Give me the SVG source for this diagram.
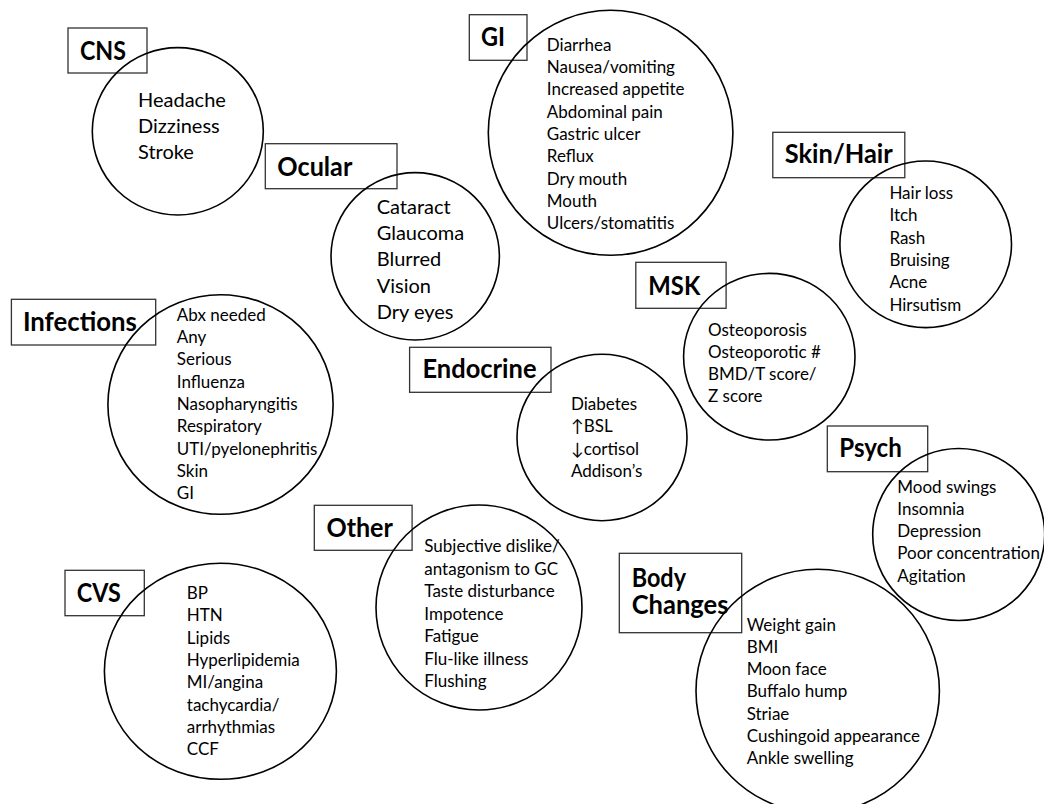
<svg xmlns="http://www.w3.org/2000/svg" width="1044" height="804" viewBox="0 0 1044 804">
<style>
.bg{fill:#ffffff}
.box{fill:none;stroke:#333333;stroke-width:1.3}
.circ{fill:none;stroke:#000000;stroke-width:1.6}
.lab{font-family:Lato,"Liberation Sans",sans-serif;font-weight:bold;font-size:25.8px;fill:#000}
.it{font-family:Lato,"Liberation Sans","DejaVu Sans",sans-serif;font-size:17px;fill:#000}
.big{font-size:20px}
</style>
<rect class="bg" x="0" y="0" width="1044" height="804"/>
<g id="connectors"></g>

<g id="cns">
<rect class="box" x="68" y="28" width="79" height="45"/>
<text class="lab" x="80" y="60" textLength="46" lengthAdjust="spacingAndGlyphs">CNS</text>
<ellipse class="circ" cx="177.8" cy="131.3" rx="85.5" ry="83.7"/>
<text class="it big" x="138" y="107.3"><tspan x="138">Headache</tspan><tspan x="138" dy="26">Dizziness</tspan><tspan x="138" dy="26">Stroke</tspan></text>
</g>

<g id="ocular">
<rect class="box" x="265.3" y="143.7" width="131.7" height="45"/>
<text class="lab" x="277.3" y="175.7" textLength="75" lengthAdjust="spacingAndGlyphs">Ocular</text>
<ellipse class="circ" cx="415.2" cy="256.3" rx="84.2" ry="83.7"/>
<text class="it big" x="376.7" y="214.2"><tspan x="376.7">Cataract</tspan><tspan x="376.7" dy="26.1">Glaucoma</tspan><tspan x="376.7" dy="26.1">Blurred</tspan><tspan x="376.7" dy="26.1">Vision</tspan><tspan x="376.7" dy="26.1">Dry eyes</tspan></text>
</g>

<g id="gi">
<rect class="box" x="469.3" y="14.7" width="57.7" height="45.6"/>
<text class="lab" x="481" y="45.7" textLength="24" lengthAdjust="spacingAndGlyphs">GI</text>
<ellipse class="circ" cx="610.6" cy="132.8" rx="122.3" ry="122.5"/>
<text class="it" x="546.8" y="50.7"><tspan x="546.8">Diarrhea</tspan><tspan x="546.8" dy="22.33">Nausea/vomiting</tspan><tspan x="546.8" dy="22.33">Increased appetite</tspan><tspan x="546.8" dy="22.33">Abdominal pain</tspan><tspan x="546.8" dy="22.33">Gastric ulcer</tspan><tspan x="546.8" dy="22.33">Reflux</tspan><tspan x="546.8" dy="22.33">Dry mouth</tspan><tspan x="546.8" dy="22.33">Mouth</tspan><tspan x="546.8" dy="22.33">Ulcers/stomatitis</tspan></text>
</g>

<g id="skin-hair">
<rect class="box" x="772.8" y="132.3" width="132" height="45.4"/>
<text class="lab" x="784.8" y="163.3" textLength="108" lengthAdjust="spacingAndGlyphs">Skin/Hair</text>
<ellipse class="circ" cx="925.7" cy="244.3" rx="85.8" ry="83.3"/>
<text class="it" x="889.4" y="199"><tspan x="889.4">Hair loss</tspan><tspan x="889.4" dy="22.33">Itch</tspan><tspan x="889.4" dy="22.33">Rash</tspan><tspan x="889.4" dy="22.33">Bruising</tspan><tspan x="889.4" dy="22.33">Acne</tspan><tspan x="889.4" dy="22.33">Hirsutism</tspan></text>
</g>

<g id="msk">
<rect class="box" x="635.8" y="262.3" width="90.3" height="46"/>
<text class="lab" x="648.3" y="295" textLength="52" lengthAdjust="spacingAndGlyphs">MSK</text>
<ellipse class="circ" cx="769.3" cy="356.7" rx="85.7" ry="83.3"/>
<text class="it" x="708" y="335.7"><tspan x="708">Osteoporosis</tspan><tspan x="708" dy="22.2">Osteoporotic #</tspan><tspan x="708" dy="22.2">BMD/T score/</tspan><tspan x="708" dy="22.2">Z score</tspan></text>
</g>

<g id="infections">
<rect class="box" x="11.4" y="299.3" width="144.3" height="45.7"/>
<text class="lab" x="22.9" y="330.7" textLength="114" lengthAdjust="spacingAndGlyphs">Infections</text>
<ellipse class="circ" cx="220.5" cy="404.5" rx="112.6" ry="109.8"/>
<text class="it" x="176.8" y="320.7"><tspan x="176.8">Abx needed</tspan><tspan x="176.8" dy="22.33">Any</tspan><tspan x="176.8" dy="22.33">Serious</tspan><tspan x="176.8" dy="22.33">Influenza</tspan><tspan x="176.8" dy="22.33">Nasopharyngitis</tspan><tspan x="176.8" dy="22.33">Respiratory</tspan><tspan x="176.8" dy="22.33">UTI/pyelonephritis</tspan><tspan x="176.8" dy="22.33">Skin</tspan><tspan x="176.8" dy="22.33">GI</tspan></text>
</g>

<g id="endocrine">
<rect class="box" x="409.6" y="347.3" width="141.4" height="45"/>
<text class="lab" x="422.5" y="378.3" textLength="114" lengthAdjust="spacingAndGlyphs">Endocrine</text>
<ellipse class="circ" cx="602" cy="437.5" rx="85" ry="83.2"/>
<text class="it" x="571" y="410"><tspan x="571">Diabetes</tspan><tspan x="571" dy="22.33">↑BSL</tspan><tspan x="571" dy="22.33">↓cortisol</tspan><tspan x="571" dy="22.33">Addison’s</tspan></text>
</g>

<g id="psych">
<rect class="box" x="827.3" y="426" width="100.4" height="45.7"/>
<text class="lab" x="839.3" y="457.3" textLength="62.5" lengthAdjust="spacingAndGlyphs">Psych</text>
<ellipse class="circ" cx="958.7" cy="534.5" rx="86" ry="86"/>
<text class="it" x="897.3" y="492.7"><tspan x="897.3">Mood swings</tspan><tspan x="897.3" dy="22.25">Insomnia</tspan><tspan x="897.3" dy="22.25">Depression</tspan><tspan x="897.3" dy="22.25">Poor concentration</tspan><tspan x="897.3" dy="22.25">Agitation</tspan></text>
</g>

<g id="other">
<rect class="box" x="314.3" y="505.3" width="97.8" height="45"/>
<text class="lab" x="326.4" y="536.7" textLength="66.5" lengthAdjust="spacingAndGlyphs">Other</text>
<ellipse class="circ" cx="479" cy="607.5" rx="103" ry="102.5"/>
<text class="it" x="424.3" y="552.3"><tspan x="424.3">Subjective dislike/</tspan><tspan x="424.3" dy="22.5">antagonism to GC</tspan><tspan x="424.3" dy="22.5">Taste disturbance</tspan><tspan x="424.3" dy="22.5">Impotence</tspan><tspan x="424.3" dy="22.5">Fatigue</tspan><tspan x="424.3" dy="22.5">Flu-like illness</tspan><tspan x="424.3" dy="22.5">Flushing</tspan></text>
</g>

<g id="cvs">
<rect class="box" x="65" y="570.3" width="79.3" height="45.4"/>
<text class="lab" x="76.8" y="601.7" textLength="44" lengthAdjust="spacingAndGlyphs">CVS</text>
<ellipse class="circ" cx="220.4" cy="671.3" rx="116" ry="108"/>
<text class="it" x="186.8" y="599"><tspan x="186.8">BP</tspan><tspan x="186.8" dy="22.33">HTN</tspan><tspan x="186.8" dy="22.33">Lipids</tspan><tspan x="186.8" dy="22.33">Hyperlipidemia</tspan><tspan x="186.8" dy="22.33">MI/angina</tspan><tspan x="186.8" dy="22.33">tachycardia/</tspan><tspan x="186.8" dy="22.33">arrhythmias</tspan><tspan x="186.8" dy="22.33">CCF</tspan></text>
</g>

<g id="body-changes">
<rect class="box" x="619.3" y="553.3" width="122.4" height="79.4"/>
<text class="lab" x="631.7" y="586.7" textLength="54.3" lengthAdjust="spacingAndGlyphs">Body</text>
<text class="lab" x="631.7" y="614.3" textLength="96.7" lengthAdjust="spacingAndGlyphs">Changes</text>
<ellipse class="circ" cx="817.7" cy="691" rx="121.7" ry="121.7"/>
<text class="it" x="746.7" y="630.7"><tspan x="746.7">Weight gain</tspan><tspan x="746.7" dy="22.2">BMI</tspan><tspan x="746.7" dy="22.2">Moon face</tspan><tspan x="746.7" dy="22.2">Buffalo hump</tspan><tspan x="746.7" dy="22.2">Striae</tspan><tspan x="746.7" dy="22.2">Cushingoid appearance</tspan><tspan x="746.7" dy="22.2">Ankle swelling</tspan></text>
</g>
</svg>
